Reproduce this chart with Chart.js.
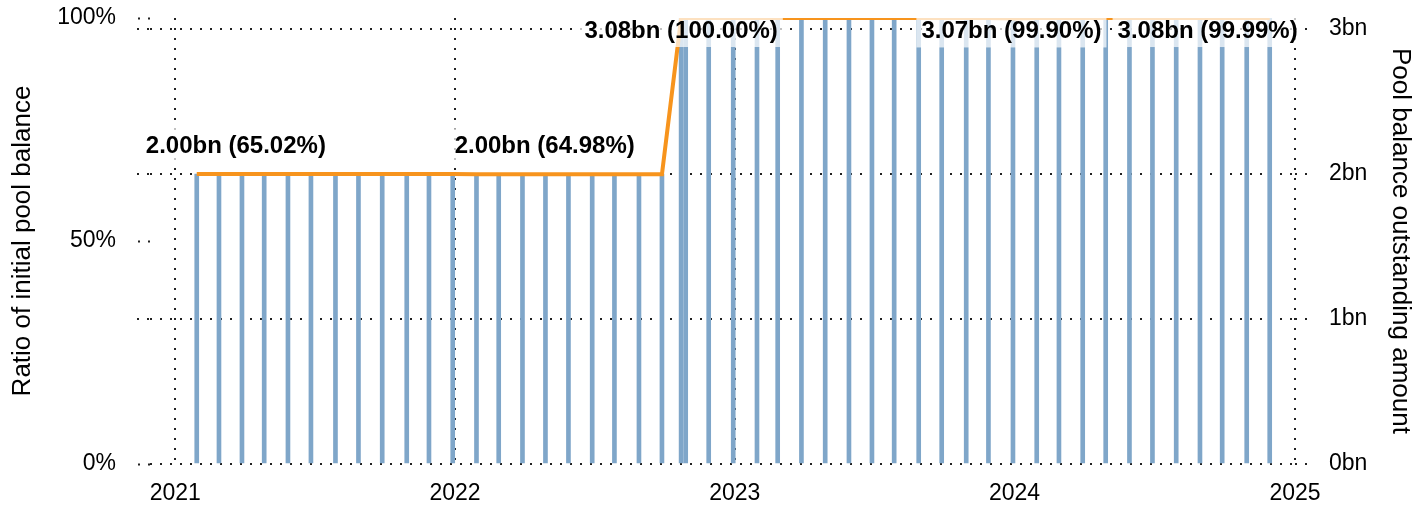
<!DOCTYPE html>
<html>
<head>
<meta charset="utf-8">
<script src="https://cdn.jsdelivr.net/npm/chart.js@4/dist/chart.umd.min.js"></script>
<style>
  body { margin: 0; background: #fff; }
  #chart { display: block; }
</style>
</head>
<body>
<canvas id="chart" width="1426" height="507"></canvas>
<script>
// fechas de pago (aprox. fin de mes) y saldo del pool en miles de millones
const payDates = [
    "2021-01-29", "2021-02-27", "2021-03-29", "2021-04-27", "2021-05-28", "2021-06-27",
    "2021-07-29", "2021-08-28", "2021-09-28", "2021-10-30", "2021-11-28", "2021-12-29",
    "2022-01-29", "2022-02-27", "2022-03-30", "2022-04-29", "2022-05-29", "2022-06-29",
    "2022-07-28", "2022-08-29", "2022-09-28", "2022-10-23", "2022-10-29", "2022-11-28", "2022-12-30",
    "2023-01-30", "2023-02-26", "2023-03-29", "2023-04-29", "2023-05-30", "2023-06-29",
    "2023-07-28", "2023-08-29", "2023-09-28", "2023-10-30", "2023-11-28", "2023-12-30",
    "2024-01-30", "2024-02-28", "2024-03-30", "2024-04-29", "2024-05-30", "2024-06-29",
    "2024-07-30", "2024-08-30", "2024-09-28", "2024-10-30", "2024-11-29",
];
const balanceBn = [
    2.0, 2.0, 2.0, 2.0, 2.0, 2.0, 2.0, 2.0, 2.0, 2.0, 2.0, 2.0,
    1.9988, 1.9988, 1.9988, 1.9988, 1.9988, 1.9988, 1.9988, 1.9988, 1.9988,
    3.076, 3.076, 3.076, 3.076,
    3.076, 3.076, 3.076, 3.076, 3.076, 3.076, 3.076, 3.076, 3.076, 3.076, 3.076, 3.0729,
    3.0757, 3.0757, 3.0757, 3.0757, 3.0757, 3.0757, 3.0757, 3.0757, 3.0757, 3.0757, 3.0757,
];
const initialPoolBn = 3.076;

// etiquetas de texto sobre la linea
const labelDates = ["2021-03-21", "2022-04-28", "2022-10-23", "2023-12-28", "2024-09-09"];
const labelValuesBn = [2.0, 1.9988, 3.076, 3.0729, 3.0757];

// ticks de los ejes
const yearTicks = [2021, 2022, 2023, 2024, 2025];
const pctTicks = [0, 50, 100];
const bnTicks = [0, 1, 2, 3];

const toMs = (d) => Date.parse(d + "T00:00:00Z");
const points = payDates.map((d, i) => ({ x: toMs(d), y: balanceBn[i] }));

const FONT = "'Liberation Sans', Arial, sans-serif";
const DOT = "#222";

// Prolonga las lineas de la escala derecha un poco a la izquierda del area
const gridStubs = {
    id: "gridStubs",
    beforeDatasetsDraw(chart) {
        const { ctx, chartArea, scales } = chart;
        ctx.save();
        ctx.strokeStyle = DOT;
        ctx.lineWidth = 2;
        ctx.setLineDash([2, 8]);
        bnTicks.filter((v) => v > 0).forEach((v) => {
            const y = Math.round(scales.yR.getPixelForValue(v));
            ctx.beginPath();
            ctx.moveTo(chartArea.left - 13, y);
            ctx.lineTo(chartArea.left, y);
            ctx.stroke();
        });
        ctx.restore();
    },
};

// Dibuja las etiquetas con fondo blanco semitransparente
const pointLabels = {
    id: "pointLabels",
    afterDatasetsDraw(chart) {
        const { ctx, chartArea, scales } = chart;
        ctx.save();
        ctx.font = "bold 24px " + FONT;
        ctx.textAlign = "center";
        ctx.textBaseline = "middle";
        labelDates.forEach((d, i) => {
            const v = labelValuesBn[i];
            const text = v.toFixed(2) + "bn (" + ((v / initialPoolBn) * 100).toFixed(2) + "%)";
            const x = scales.x.getPixelForValue(toMs(d));
            const yLine = scales.yR.getPixelForValue(v);
            const y = yLine - 45 < chartArea.top ? yLine + 12 : yLine - 29;
            const w = ctx.measureText(text).width;
            ctx.fillStyle = "rgba(255,255,255,0.72)";
            ctx.fillRect(x - w / 2 - 5, y - 17, w + 10, 34);
            ctx.fillStyle = "#000";
            ctx.fillText(text, x, y + 1);
        });
        ctx.restore();
    },
};

// quitar el relleno que Chart.js reserva para las etiquetas extremas
const noPad = (s) => {
    s.paddingTop = 0;
    s.paddingBottom = 0;
};

new Chart(document.getElementById("chart"), {
    data: {
        datasets: [
            {
                type: "line",
                data: points,
                yAxisID: "yR",
                borderColor: "#f7941d",
                borderWidth: 4,
                pointRadius: 0,
                tension: 0,
                order: 0,
            },
            {
                type: "bar",
                data: points,
                yAxisID: "yR",
                backgroundColor: "#7fa6c9",
                barThickness: 4,
                order: 1,
            },
        ],
    },
    options: {
        responsive: false,
        animation: false,
        devicePixelRatio: 1,
        layout: { padding: { top: 18, left: 0, right: 0, bottom: 0 } },
        plugins: { legend: { display: false }, tooltip: { enabled: false } },
        scales: {
            x: {
                type: "linear",
                min: toMs("2020-11-29"),
                max: toMs("2025-01-01"),
                offset: false,
                afterBuildTicks: (s) => {
                    s.ticks = yearTicks.map((y) => ({ value: Date.UTC(y, 0, 1) }));
                },
                afterFit: (s) => {
                    s.height = 43;
                    s.paddingLeft = 0;
                    s.paddingRight = 0;
                },
                ticks: {
                    autoSkip: false,
                    maxRotation: 0,
                    padding: 16,
                    color: "#000",
                    font: { family: FONT, size: 23 },
                    callback: (v) => new Date(v).getUTCFullYear(),
                },
                grid: { color: DOT, lineWidth: 2, drawTicks: false, offset: false },
                border: { display: false, dash: [2, 8] },
            },
            yL: {
                type: "linear",
                position: "left",
                min: 0,
                max: 100,
                afterBuildTicks: (s) => {
                    s.ticks = pctTicks.map((v) => ({ value: v }));
                },
                afterFit: (s) => {
                    s.width = 150;
                    noPad(s);
                },
                ticks: {
                    padding: 22,
                    color: "#000",
                    font: { family: FONT, size: 23 },
                    callback: (v) => v + "%",
                },
                grid: {
                    drawOnChartArea: false,
                    tickLength: 12,
                    tickColor: DOT,
                    tickWidth: 2,
                    tickBorderDash: [2, 8],
                },
                border: { display: false },
                title: {
                    display: true,
                    text: "Ratio of initial pool balance",
                    color: "#000",
                    padding: { top: 7, bottom: 0 },
                    font: { family: FONT, size: 26, lineHeight: 1.2 },
                },
            },
            yR: {
                type: "linear",
                position: "right",
                min: 0,
                max: initialPoolBn,
                afterBuildTicks: (s) => {
                    s.ticks = bnTicks.map((v) => ({ value: v }));
                },
                afterFit: (s) => {
                    s.width = 131;
                    noPad(s);
                },
                ticks: {
                    padding: 22,
                    color: "#000",
                    font: { family: FONT, size: 23 },
                    callback: (v) => v + "bn",
                },
                grid: {
                    color: DOT,
                    lineWidth: 2,
                    tickLength: 12,
                    tickColor: DOT,
                    tickWidth: 2,
                    tickBorderDash: [2, 8],
                },
                border: { display: false, dash: [2, 8] },
                title: {
                    display: true,
                    text: "Pool balance outstanding amount",
                    color: "#000",
                    padding: { top: 10, bottom: 0 },
                    font: { family: FONT, size: 26, lineHeight: 1.2 },
                },
            },
        },
    },
    plugins: [gridStubs, pointLabels],
});
</script>
</body>
</html>
